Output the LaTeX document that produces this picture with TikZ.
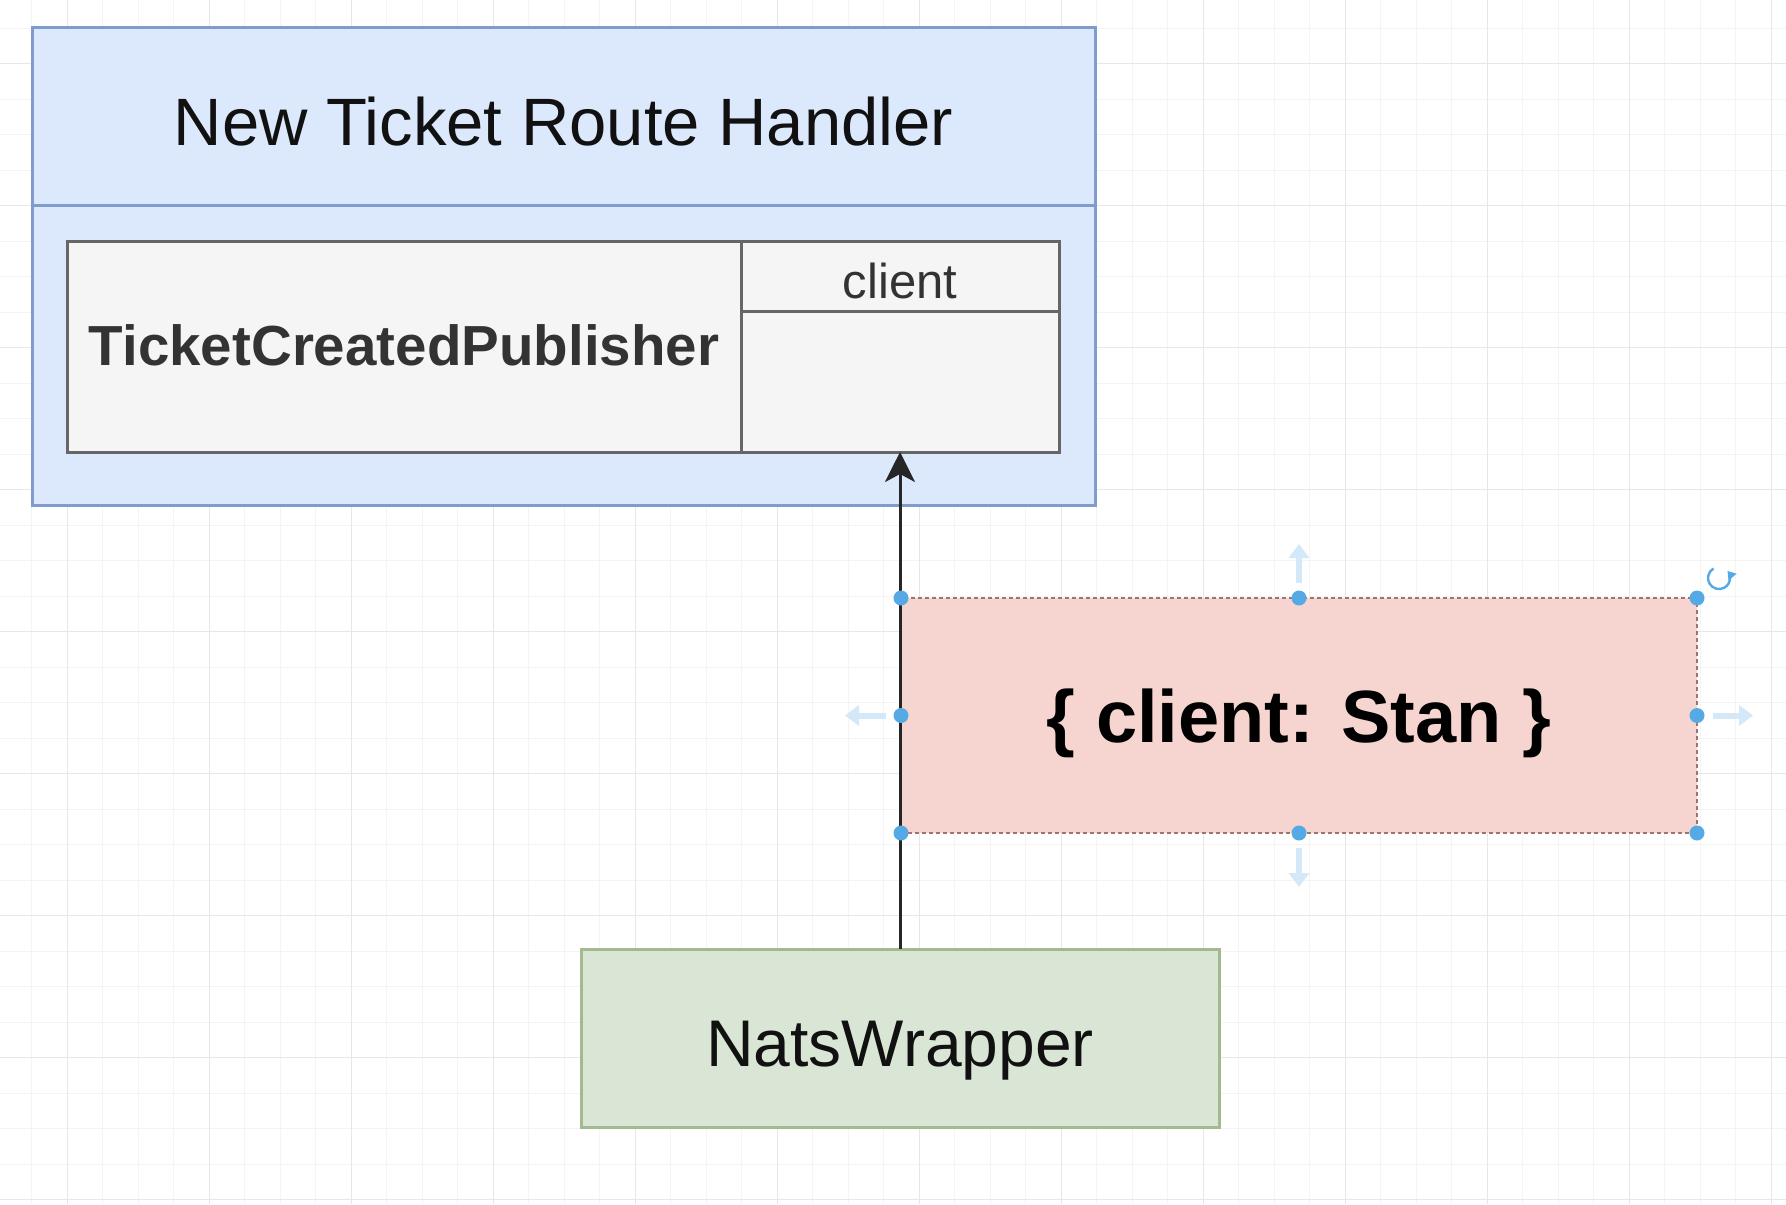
\documentclass[tikz,border=0pt]{standalone}
\usepackage{fontspec}
\setmainfont{Liberation Sans}
\usetikzlibrary{arrows.meta}
\definecolor{bluefill}{HTML}{DCE8FB}
\definecolor{bluedraw}{HTML}{7F9CCC}
\definecolor{grayfill}{HTML}{F5F5F5}
\definecolor{graydraw}{HTML}{666666}
\definecolor{redfill}{HTML}{F6D5D0}
\definecolor{reddraw}{HTML}{A07270}
\definecolor{greenfill}{HTML}{DAE6D5}
\definecolor{greendraw}{HTML}{A3BA90}
\definecolor{gridminor}{HTML}{F4F4F5}
\definecolor{gridmajor}{HTML}{E6E7E9}
\definecolor{selblue}{HTML}{55AAE6}
\definecolor{hoverblue}{HTML}{D3E8F8}
\definecolor{txtgray}{HTML}{333333}
\definecolor{txtdark}{HTML}{111111}
\tikzset{
  boxbase/.style={inner sep=0pt, outer sep=0pt, line width=1.5pt},
  bluebox/.style={boxbase, draw=bluedraw, fill=bluefill},
  graybox/.style={boxbase, draw=graydraw, fill=grayfill},
  redbox/.style={boxbase, fill=redfill, draw=reddraw, line width=1.1pt, dash pattern=on 2pt off 1.5pt},
  greenbox/.style={boxbase, draw=greendraw, fill=greenfill},
  conn/.style={draw=black!85, line width=1.5pt, -{Stealth[length=15pt,width=15pt,inset=4pt]}},
  handle/.style={fill=selblue, draw=none},
  hover/.style={draw=hoverblue, line width=3pt, -{Triangle[length=7pt,width=10pt]}},
  txt/.style={inner sep=0pt}
}
\begin{document}
\begin{tikzpicture}[x=0.5pt,y=-0.5pt]
\useasboundingbox (0,0) rectangle (1786,1204);
\fill[white] (0,0) rectangle (1786,1204);
% grid
\foreach \i in {-1,...,50} {
  \pgfmathsetmacro\xx{31.75+35.5*\i}
  \draw[gridminor, line width=0.5pt] (\xx,0) -- (\xx,1204);
}
\foreach \i in {-1,...,34} {
  \pgfmathsetmacro\yy{28.25+35.5*\i}
  \draw[gridminor, line width=0.5pt] (0,\yy) -- (1786,\yy);
}
\foreach \i in {-1,...,12} {
  \pgfmathsetmacro\xx{67.25+142*\i}
  \draw[gridmajor, line width=0.6pt] (\xx,0) -- (\xx,1204);
}
\foreach \i in {-1,...,8} {
  \pgfmathsetmacro\yy{63.75+142*\i}
  \draw[gridmajor, line width=0.6pt] (0,\yy) -- (1786,\yy);
}

% outer route handler container
\node[bluebox, minimum width=531.5pt, minimum height=238.5pt] (outer) at (563.5,266.5) {};
\coordinate (hdrL) at (32,205);
\coordinate (hdrR) at (1095,205);
\draw[bluedraw, line width=1.5pt] (hdrL) -- (hdrR);
\node[txt, text=txtdark, font=\fontsize{33.5}{40}\selectfont] (title) at (563.5,122) {New Ticket Route Handler};

% publisher
\node[graybox, minimum width=337pt, minimum height=105.5pt] (pub) at (404,346.5) {};
\node[txt, text=txtgray, font=\fontsize{28.25}{34}\selectfont\bfseries] (pubtxt) at (404,345.5) {TicketCreatedPublisher};
\node[graybox, minimum width=159pt, minimum height=105.5pt] (rcell) at (900,346.5) {};
\coordinate (rowL) at (741,311);
\coordinate (rowR) at (1059,311);
\draw[graydraw, line width=1.5pt] (rowL) -- (rowR);
\node[txt, text=txtgray, font=\fontsize{24.5}{30}\selectfont] (clienttxt) at (900,281) {client};

% red selected box
\node[redbox, minimum width=398pt, minimum height=117.5pt] (stan) at (1299,715.5) {};
\node[txt, text=black, font=\fontsize{37}{44}\selectfont\bfseries] (stantxt) at (1299,723) {\{ client: Stan \}};

% green box
\node[greenbox, minimum width=319pt, minimum height=89pt] (nats) at (900,1038) {};
\node[txt, text=txtdark, font=\fontsize{33}{40}\selectfont] (natstxt) at (900,1051) {NatsWrapper};

% connector
\draw[conn] (nats.north) -- (rcell.south);

% selection handles
\foreach \p in {north west,north,north east,west,east,south west,south,south east} {
  \fill[handle] (stan.\p) circle[radius=7.5];
}
% hover arrows
\coordinate (hvT0) at (1299,583); \coordinate (hvT1) at (1299,544);
\coordinate (hvB0) at (1299,848); \coordinate (hvB1) at (1299,887);
\coordinate (hvL0) at (886,715.5); \coordinate (hvL1) at (845,715.5);
\coordinate (hvR0) at (1713,715.5); \coordinate (hvR1) at (1753,715.5);
\draw[hover] (hvT0) -- (hvT1);
\draw[hover] (hvB0) -- (hvB1);
\draw[hover] (hvL0) -- (hvL1);
\draw[hover] (hvR0) -- (hvR1);
% rotate icon
\coordinate (rot) at (1719,578);
\draw[selblue, line width=1.2pt, -{Triangle[length=4pt,width=5pt]}] ([shift={(-5.5,-9.5)}]rot) arc[start angle=240, end angle=-40, radius=11];
\end{tikzpicture}
\end{document}
